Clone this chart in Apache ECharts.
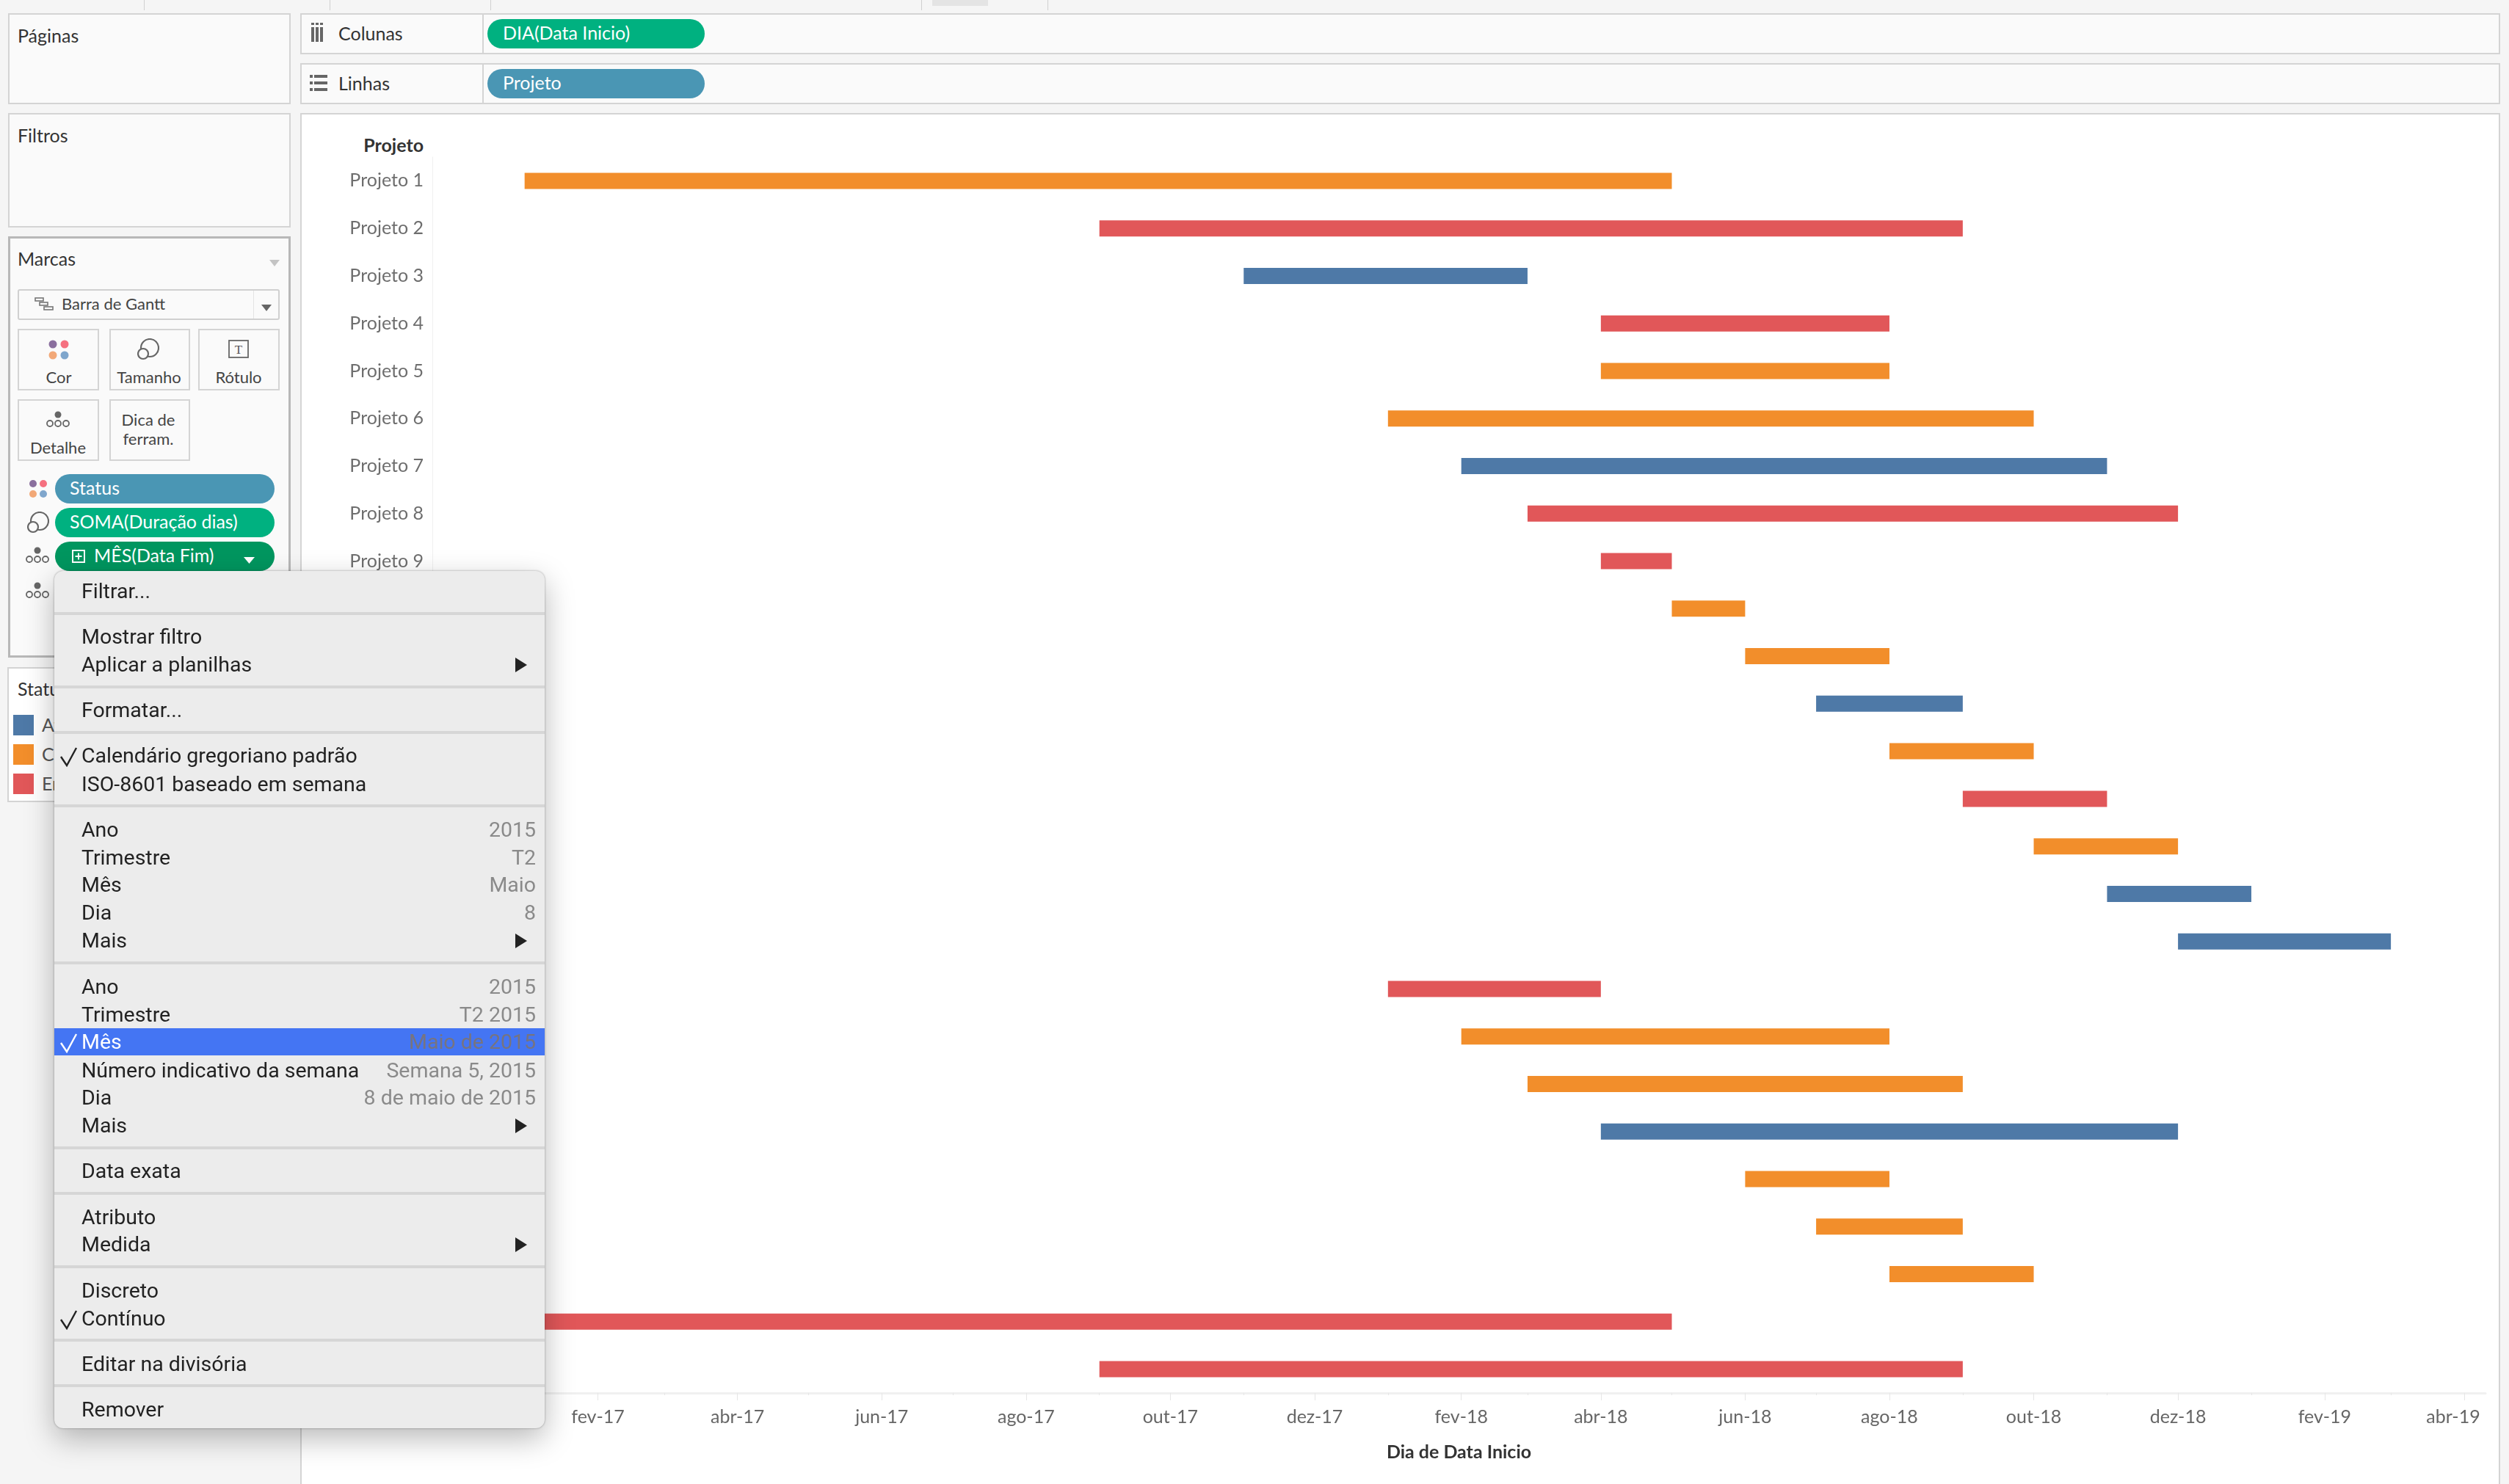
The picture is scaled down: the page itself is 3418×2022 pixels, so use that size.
<!DOCTYPE html>
<html lang="pt">
<head>
<meta charset="utf-8">
<title>Gantt - Projetos</title>
<script src="https://cdn.jsdelivr.net/npm/echarts@6/dist/echarts.min.js"></script>
<style>
  html, body { margin: 0; padding: 0; width: 3418px; height: 2022px; overflow: hidden; background: #f5f5f5; font-family: Lato, sans-serif; }
  #chrome, #menu-layer { position: absolute; left: 0; top: 0; width: 3418px; height: 2022px; }
  #chrome { z-index: 1; }
  #chart { position: absolute; left: 0; top: 0; width: 3418px; height: 2022px; z-index: 2; }
  #menu-layer { z-index: 3; pointer-events: none; }
  .box { position: absolute; box-sizing: border-box; }
  .t { position: absolute; white-space: nowrap; line-height: 1; transform: translateY(-50%); }
  .panel { background: #fafafa; border: 2px solid #d4d4d4; }
  .card { border: 2px solid #d4d4d4; background: #fafafa; }
  .pill { border-radius: 20px; }
</style>
</head>
<body>
<div id="chrome"></div>
<div id="chart"></div>
<div id="menu-layer"></div>
<script>
// dados do gráfico
const projetos = ['Projeto 1', 'Projeto 2', 'Projeto 3', 'Projeto 4', 'Projeto 5', 'Projeto 6', 'Projeto 7', 'Projeto 8', 'Projeto 9',
  'Projeto 10', 'Projeto 11', 'Projeto 12', 'Projeto 13', 'Projeto 14', 'Projeto 15', 'Projeto 16', 'Projeto 17', 'Projeto 18',
  'Projeto 19', 'Projeto 20', 'Projeto 21', 'Projeto 22', 'Projeto 23', 'Projeto 24', 'Projeto 25', 'Projeto 26'];
const inicio = ['2017-01-01', '2017-09-01', '2017-11-01', '2018-04-01', '2018-04-01', '2018-01-01', '2018-02-01', '2018-03-01', '2018-04-01',
  '2018-05-01', '2018-06-01', '2018-07-01', '2018-08-01', '2018-09-01', '2018-10-01', '2018-11-01', '2018-12-01', '2018-01-01',
  '2018-02-01', '2018-03-01', '2018-04-01', '2018-06-01', '2018-07-01', '2018-08-01', '2017-01-01', '2017-09-01'];
const fim = ['2018-05-01', '2018-09-01', '2018-03-01', '2018-08-01', '2018-08-01', '2018-10-01', '2018-11-01', '2018-12-01', '2018-05-01',
  '2018-06-01', '2018-08-01', '2018-09-01', '2018-10-01', '2018-11-01', '2018-12-01', '2019-01-01', '2019-03-01', '2018-04-01',
  '2018-08-01', '2018-09-01', '2018-12-01', '2018-08-01', '2018-09-01', '2018-10-01', '2018-05-01', '2018-09-01'];
const status = ['C', 'E', 'A', 'E', 'C', 'C', 'A', 'E', 'E', 'C', 'C', 'A', 'C', 'E', 'C', 'A', 'A', 'E', 'C', 'C', 'A', 'C', 'C', 'C', 'E', 'E'];
const tickDatas = ['2016-12-01', '2017-02-01', '2017-04-01', '2017-06-01', '2017-08-01', '2017-10-01', '2017-12-01', '2018-02-01', '2018-04-01',
  '2018-06-01', '2018-08-01', '2018-10-01', '2018-12-01', '2019-02-01', '2019-04-01'];
const tickRotulos = ['dez-16', 'fev-17', 'abr-17', 'jun-17', 'ago-17', 'out-17', 'dez-17', 'fev-18', 'abr-18',
  'jun-18', 'ago-18', 'out-18', 'dez-18', 'fev-19', 'abr-19'];
const ticksMenores = ['2017-01-01', '2017-03-01', '2017-05-01', '2017-07-01', '2017-09-01', '2017-11-01', '2018-01-01', '2018-03-01',
  '2018-05-01', '2018-07-01', '2018-09-01', '2018-11-01', '2019-01-01', '2019-03-01'];

const coresStatus = { A: '#4e79a7', C: '#f28e2b', E: '#e15759' };
const ts = s => +echarts.time.parse(s);

// --- interface ao redor do gráfico ---
const chrome = document.getElementById('chrome');
const menuLayer = document.getElementById('menu-layer');

function box(parent, x, y, w, h, css, cls) {
  const el = document.createElement('div');
  el.className = 'box ' + (cls || '');
  el.style.cssText = `left:${x}px;top:${y}px;width:${w}px;height:${h}px;${css || ''}`;
  parent.appendChild(el);
  return el;
}
function txt(parent, x, y, s, size, color, extra) {
  const el = document.createElement('div');
  el.className = 't';
  el.textContent = s;
  el.style.cssText = `left:${x}px;top:${y}px;font-size:${size}px;color:${color};${extra || ''}`;
  parent.appendChild(el);
  return el;
}
function svg(parent, x, y, w, h, inner) {
  const el = document.createElement('div');
  el.className = 'box';
  el.style.cssText = `left:${x}px;top:${y}px;width:${w}px;height:${h}px;`;
  el.innerHTML = `<svg width="${w}" height="${h}" viewBox="0 0 ${w} ${h}">${inner}</svg>`;
  parent.appendChild(el);
}

const icoCor = `<circle cx="6" cy="6" r="5.5" fill="#8a6f9e"/><circle cx="22" cy="6" r="5.5" fill="#f5707f"/><circle cx="6" cy="21" r="5.5" fill="#f2a877"/><circle cx="22" cy="21" r="5.5" fill="#7fa6cc"/>`;
const icoTam = `<circle cx="17" cy="13" r="12" fill="none" stroke="#666" stroke-width="2.2"/><circle cx="8" cy="21" r="7" fill="#fafafa" stroke="#666" stroke-width="2.2"/>`;
const icoDet = `<circle cx="16" cy="5" r="4.5" fill="#666"/><circle cx="5" cy="17" r="4" fill="none" stroke="#666" stroke-width="1.8"/><circle cx="16" cy="17" r="4" fill="none" stroke="#666" stroke-width="1.8"/><circle cx="27" cy="17" r="4" fill="none" stroke="#666" stroke-width="1.8"/>`;

// marcas de abas no topo
[196, 449, 668, 1255, 1427].forEach(x => box(chrome, x, 0, 1, 14, 'background:#d0d0d0;'));
box(chrome, 1270, 0, 76, 8, 'background:#e4e4e4;');

box(chrome, 11, 18, 385, 124, '', 'panel');
txt(chrome, 24, 48, 'Páginas', 25, '#333');
box(chrome, 11, 154, 385, 156, '', 'panel');
txt(chrome, 24, 184, 'Filtros', 25, '#333');

box(chrome, 409, 18, 2997, 56, '', 'panel');
box(chrome, 657, 19, 2, 54, 'background:#d4d4d4;');
txt(chrome, 461, 45, 'Colunas', 25, '#333');
svg(chrome, 424, 31, 16, 26, `<rect x="0" y="0" width="4" height="3" fill="#666"/><rect x="6" y="0" width="4" height="3" fill="#666"/><rect x="12" y="0" width="4" height="3" fill="#666"/><rect x="0" y="6" width="4" height="20" fill="#666"/><rect x="6" y="6" width="4" height="20" fill="#666"/><rect x="12" y="6" width="4" height="20" fill="#666"/>`);
box(chrome, 664, 26, 296, 40, 'background:#00b180;', 'pill');
txt(chrome, 685, 44, 'DIA(Data Inicio)', 25, '#fff');

box(chrome, 409, 86, 2997, 56, '', 'panel');
box(chrome, 657, 87, 2, 54, 'background:#d4d4d4;');
txt(chrome, 461, 113, 'Linhas', 25, '#333');
svg(chrome, 422, 101, 26, 24, `<rect x="0" y="1" width="4" height="4" fill="#666"/><rect x="6" y="1" width="18" height="4" fill="#666"/><rect x="0" y="10" width="4" height="4" fill="#666"/><rect x="6" y="10" width="18" height="4" fill="#666"/><rect x="0" y="19" width="4" height="4" fill="#666"/><rect x="6" y="19" width="18" height="4" fill="#666"/>`);
box(chrome, 664, 94, 296, 40, 'background:#4a96b4;', 'pill');
txt(chrome, 685, 112, 'Projeto', 25, '#fff');

// painel do gráfico
box(chrome, 409, 154, 2997, 1880, 'background:#fff;border:2px solid #d4d4d4;');

// Marcas
box(chrome, 11, 322, 385, 574, 'background:#fafafa;border:3px solid #b8b8b8;');
txt(chrome, 24, 352, 'Marcas', 25, '#333');
svg(chrome, 367, 347, 14, 9, `<polygon points="0,0 14,0 7,9" fill="#c4c4c4"/>`);
box(chrome, 24, 394, 357, 42, 'background:#fafafa;border:2px solid #d0d0d0;border-radius:3px;');
box(chrome, 345, 396, 1, 38, 'background:#e4e4e4;');
svg(chrome, 47, 405, 26, 20, `<g fill="none" stroke="#777" stroke-width="1.6"><rect x="1" y="1" width="11" height="4"/><rect x="7" y="7" width="11" height="4"/><rect x="13" y="13" width="12" height="4"/></g>`);
txt(chrome, 84, 414, 'Barra de Gantt', 22, '#444');
svg(chrome, 356, 408, 14, 9, `<polygon points="0,0 14,0 7,9" fill="#666"/>`);

box(chrome, 24, 448, 111, 84, '', 'card');
box(chrome, 149, 448, 110, 84, '', 'card');
box(chrome, 270, 448, 111, 84, '', 'card');
box(chrome, 24, 544, 111, 84, '', 'card');
box(chrome, 149, 544, 110, 84, '', 'card');
svg(chrome, 66, 463, 28, 27, icoCor);
svg(chrome, 187, 461, 30, 30, icoTam);
svg(chrome, 311, 463, 29, 25, `<rect x="1" y="1" width="26" height="23" fill="none" stroke="#666" stroke-width="1.8"/><text x="14" y="19" font-family="Liberation Serif" font-size="17" fill="#555" text-anchor="middle">T</text>`);
svg(chrome, 63, 560, 33, 24, icoDet);
txt(chrome, 80, 514, 'Cor', 22, '#444', 'transform:translate(-50%,-50%);');
txt(chrome, 203, 514, 'Tamanho', 22, '#444', 'transform:translate(-50%,-50%);');
txt(chrome, 325, 514, 'Rótulo', 22, '#444', 'transform:translate(-50%,-50%);');
txt(chrome, 79, 610, 'Detalhe', 22, '#444', 'transform:translate(-50%,-50%);');
txt(chrome, 202, 572, 'Dica de', 22, '#444', 'transform:translate(-50%,-50%);');
txt(chrome, 202, 598, 'ferram.', 22, '#444', 'transform:translate(-50%,-50%);');

svg(chrome, 39, 653, 26, 26, icoCor.replace(/r="5.5"/g, 'r="5"').replace(/cx="22"/g, 'cx="20"').replace(/cy="21"/g, 'cy="20"'));
box(chrome, 75, 646, 299, 40, 'background:#4a96b4;', 'pill');
txt(chrome, 95, 664, 'Status', 25, '#fff');
svg(chrome, 37, 697, 30, 30, icoTam);
box(chrome, 75, 692, 299, 40, 'background:#00b180;', 'pill');
txt(chrome, 95, 710, 'SOMA(Duração dias)', 25, '#fff');
svg(chrome, 35, 745, 33, 24, icoDet);
box(chrome, 75, 738, 299, 40, 'background:#00965f;', 'pill');
svg(chrome, 98, 749, 18, 18, `<rect x="1" y="1" width="16" height="16" fill="none" stroke="#fff" stroke-width="2"/><path d="M9 4.5v9M4.5 9h9" stroke="#fff" stroke-width="2"/>`);
txt(chrome, 128, 756, 'MÊS(Data Fim)', 25, '#fff');
svg(chrome, 332, 752, 15, 9, `<polygon points="0,0 15,0 7.5,9" fill="#fff"/>`);
svg(chrome, 35, 793, 33, 24, icoDet);

// legenda de Status (cortada pelo menu, como na referência)
box(chrome, 10, 909, 386, 184, 'background:#fff;border:2px solid #d4d4d4;');
txt(chrome, 24, 938, 'Statu', 25, '#333');
[['At', 'A', 974], ['Co', 'C', 1014], ['Em', 'E', 1054]].forEach(l => {
  box(chrome, 18, l[2], 28, 28, `background:${coresStatus[l[1]]};`);
  txt(chrome, 57, l[2] + 13, l[0], 25, '#555');
});

// título da coluna do eixo Y
txt(chrome, 577, 197, 'Projeto', 25, '#333', 'transform:translate(-100%,-50%);font-weight:700;');

// --- menu de contexto ---
const menu = box(menuLayer, 74, 778, 668, 1168, 'background:#ececec;border-radius:12px;box-shadow:0 14px 40px rgba(0,0,0,.28),0 0 3px rgba(0,0,0,.35);overflow:hidden;');
const MX = 74, MY = 778;
[836, 936, 998, 1098, 1312, 1563.5, 1626, 1726, 1826, 1888].forEach(y => box(menu, 0, y - MY - 2, 668, 4, 'background:#d6d6d6;'));
box(menu, 0, 1400.5 - MY, 668, 37.5, 'background:#4475f3;');
const itensMenu = [
  ['Filtrar...', 806], ['Mostrar filtro', 868], ['Aplicar a planilhas', 906, null, 1], ['Formatar...', 968],
  ['Calendário gregoriano padrão', 1030, null, 0, 1], ['ISO-8601 baseado em semana', 1068.5],
  ['Ano', 1130.5, '2015'], ['Trimestre', 1168.5, 'T2'], ['Mês', 1206, 'Maio'], ['Dia', 1244, '8'], ['Mais', 1282, null, 1],
  ['Ano', 1345, '2015'], ['Trimestre', 1382.5, 'T2 2015'], ['Mês', 1420, 'Maio de 2015', 0, 1, 1],
  ['Número indicativo da semana', 1459, 'Semana 5, 2015'], ['Dia', 1496, '8 de maio de 2015'], ['Mais', 1534, null, 1],
  ['Data exata', 1596], ['Atributo', 1659], ['Medida', 1696, null, 1], ['Discreto', 1759], ['Contínuo', 1797, null, 0, 1],
  ['Editar na divisória', 1859], ['Remover', 1921]
];
itensMenu.forEach(([rotulo, y, dir, seta, check, ativo]) => {
  const fam = 'font-family:Roboto,sans-serif;';
  txt(menu, 111 - MX, y - MY, rotulo, 28.5, ativo ? '#fff' : '#222', fam);
  if (dir) txt(menu, 730 - MX, y - MY, dir, 28.5, ativo ? '#77747f' : '#8a8a8a', fam + 'transform:translate(-100%,-50%);');
  if (seta) svg(menu, 702 - MX, y - MY - 10, 16, 20, `<polygon points="0,0 16,10 0,20" fill="#222"/>`);
  if (check) svg(menu, 81 - MX, y - MY - 13, 25, 28, `<path d="M2 14 L10 26 L23 2" fill="none" stroke="${ativo ? '#fff' : '#222'}" stroke-width="2.4"/>`);
});

// --- gráfico ---
const chart = echarts.init(document.getElementById('chart'), null, { renderer: 'canvas' });
const dadosBarras = projetos.map((p, i) => [ts(inicio[i]), ts(fim[i]), i]);

function desenhaBarra(params, api) {
  const a = api.coord([api.value(0), api.value(2)]);
  const b = api.coord([api.value(1), api.value(2)]);
  const altura = 22;
  return {
    type: 'rect',
    shape: { x: a[0], y: a[1] - altura / 2, width: b[0] - a[0], height: altura },
    style: { fill: coresStatus[status[params.dataIndex]] }
  };
}

const xMin = ts('2016-11-23');
const xMax = ts('2019-04-10');
const valoresTick = tickDatas.map(ts);

chart.setOption({
  backgroundColor: 'transparent',
  animation: false,
  grid: { left: 589, right: 32, top: 214, height: 1684 },
  xAxis: [
    {
      type: 'value', min: xMin, max: xMax, position: 'bottom',
      axisLine: { show: true, lineStyle: { color: '#f0f0f0', width: 3 } },
      axisTick: { show: true, length: 10, customValues: valoresTick, lineStyle: { color: '#e6e6e6', width: 1 } },
      axisLabel: {
        customValues: valoresTick, margin: 20, fontFamily: 'Lato', fontSize: 25, color: '#666',
        formatter: v => {
          const s = tickRotulos[valoresTick.indexOf(+v)];
          return s === 'abr-19' ? '{ult|' + s + '}' : s;
        },
        rich: { ult: { padding: [0, 30, 0, 0], fontFamily: 'Lato', fontSize: 25, color: '#666' } }
      },
      splitLine: { show: false },
      name: 'Dia de Data Inicio', nameLocation: 'middle', nameGap: 68,
      nameTextStyle: { fontFamily: 'Lato', fontSize: 25, fontWeight: 700, color: '#333' }
    },
    {
      type: 'value', min: xMin, max: xMax, position: 'bottom',
      axisLine: { show: false },
      axisTick: { show: true, length: 3, customValues: ticksMenores.map(ts), lineStyle: { color: '#e6e6e6', width: 1 } },
      axisLabel: { show: false },
      splitLine: { show: false }
    }
  ],
  yAxis: {
    type: 'category', inverse: true, data: projetos,
    axisLine: { show: true, lineStyle: { color: '#f0f0f0', width: 1 } },
    axisTick: { show: false },
    axisLabel: { margin: 12, fontFamily: 'Lato', fontSize: 25, color: '#6e6e6e' },
    splitLine: { show: false }
  },
  series: [{
    type: 'custom', renderItem: desenhaBarra, xAxisIndex: 0, yAxisIndex: 0,
    encode: { x: [0, 1], y: 2 }, data: dadosBarras, silent: true
  }]
});
</script>
</body>
</html>
